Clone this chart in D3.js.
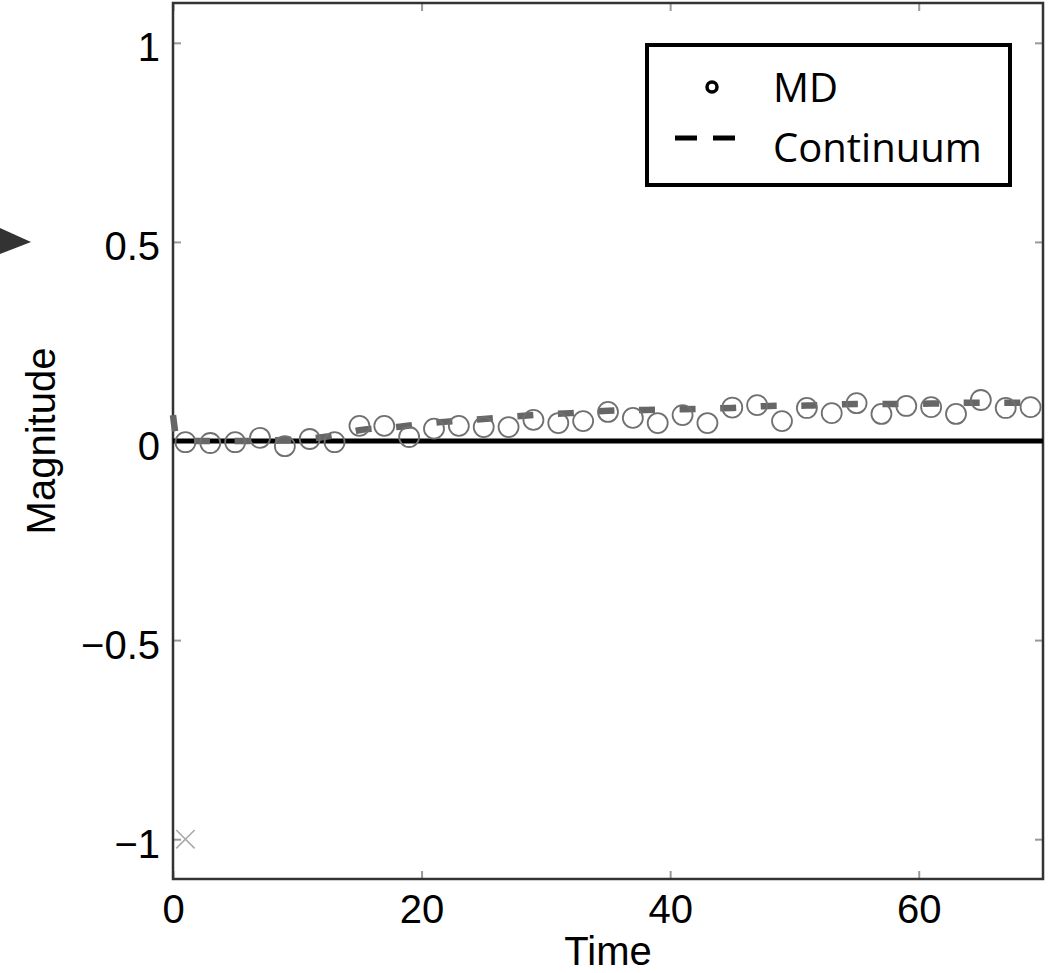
<!DOCTYPE html>
<html>
<head>
<meta charset="utf-8">
<script src="https://cdn.jsdelivr.net/npm/d3@7"></script>
<style>
  html, body { margin: 0; padding: 0; background: #fff; }
  svg { display: block; }
</style>
</head>
<body>
<div id="viz"></div>
<script>
'use strict';

// MD samples (every 2 time units)
const mdTime = [1, 3, 5, 7, 9, 11, 13, 15, 17, 19, 21, 23, 25, 27, 29, 31, 33, 35,
  37, 39, 41, 43, 45, 47, 49, 51, 53, 55, 57, 59, 61, 63, 65, 67, 69];
const mdValue = [-0.003, -0.005, -0.003, 0.008, -0.013, 0.005, -0.003, 0.038, 0.038,
  0.01, 0.031, 0.038, 0.035, 0.035, 0.053, 0.045, 0.05, 0.073, 0.058, 0.045, 0.065,
  0.045, 0.084, 0.09, 0.05, 0.083, 0.07, 0.095, 0.068, 0.088, 0.085, 0.068, 0.103,
  0.083, 0.085];

// continuum solution
const contTime = [0, 0.3, 1, 5, 10, 13, 15, 18, 21, 25, 28, 32, 35, 38, 41, 45, 48,
  51, 55, 58, 61, 64, 67, 70];
const contValue = [0.065, 0.01, 0, 0, 0.004, 0.014, 0.027, 0.035, 0.046, 0.055, 0.063,
  0.07, 0.076, 0.078, 0.08, 0.083, 0.088, 0.089, 0.093, 0.093, 0.094, 0.096, 0.096,
  0.097];

// stray marker near the bottom
const crossTime = [1];
const crossValue = [-1];

const xTicks = [0, 20, 40, 60];
const yTicks = [-1, -0.5, 0, 0.5, 1];
const legendLabels = ['MD', 'Continuum'];

const W = 1054, H = 973;
const margin = {top: 3, right: 11, bottom: 94, left: 173};
const width = W - margin.left - margin.right;
const height = H - margin.top - margin.bottom;

const svg = d3.select('#viz')
  .append('svg')
    .attr('width', W)
    .attr('height', H);

const g = svg.append('g')
  .attr('transform', 'translate(' + margin.left + ',' + margin.top + ')');

const x = d3.scaleLinear()
  .domain([0, 70])
  .range([0, width]);

const y = d3.scaleLinear()
  .domain([-1.1, 1.1])
  .range([height, 0]);

const fmt = d3.format('~g');
const tickFont = '"Liberation Sans", Arial, sans-serif';

function styleAxis(sel) {
  sel.select('.domain').remove();
  sel.selectAll('.tick line')
    .attr('stroke', '#999')
    .attr('stroke-width', 2);
  sel.selectAll('.tick text')
    .attr('fill', '#000')
    .style('font-family', tickFont)
    .style('font-size', '40px');
}

// left axis
g.append('g')
  .call(d3.axisLeft(y).tickValues(yTicks).tickFormat(fmt).tickSize(-8).tickPadding(13))
  .call(styleAxis)
  .selectAll('.tick text')
    .attr('dy', '0.45em');

// right axis (ticks only)
g.append('g')
  .attr('transform', `translate(${width},0)`)
  .call(d3.axisRight(y).tickValues(yTicks).tickFormat('').tickSize(-8))
  .call(styleAxis);

// bottom axis
g.append('g')
  .attr('transform', `translate(0,${height})`)
  .call(d3.axisBottom(x).tickValues(xTicks).tickFormat(fmt).tickSize(-8).tickPadding(16))
  .call(styleAxis);

// top axis (ticks only)
g.append('g')
  .call(d3.axisTop(x).tickValues(xTicks).tickFormat('').tickSize(-8))
  .call(styleAxis);

// box
g.append('rect')
  .attr('x', 0)
  .attr('y', 0)
  .attr('width', width)
  .attr('height', height)
  .attr('fill', 'none')
  .attr('stroke', '#333')
  .attr('stroke-width', 2.5);

// zero line
g.append('line')
  .attr('x1', x(0))
  .attr('x2', x(70))
  .attr('y1', y(0))
  .attr('y2', y(0))
  .attr('stroke', '#000')
  .attr('stroke-width', 5);

// continuum dashed
const contData = contTime.map((t, i) => ({t, v: contValue[i]}));
g.append('path')
  .datum(contData)
  .attr('fill', 'none')
  .attr('stroke', '#666')
  .attr('stroke-width', 6.5)
  .attr('stroke-dasharray', '16,24.6')
  .attr('d', d3.line()
    .x(d => x(d.t))
    .y(d => y(d.v))
    .curve(d3.curveMonotoneX)
  );

// MD circles
const mdData = mdTime.map((t, i) => ({t, v: mdValue[i]}));
g.selectAll('circle.md')
  .data(mdData)
  .join('circle')
    .attr('class', 'md')
    .attr('cx', d => x(d.t))
    .attr('cy', d => y(d.v))
    .attr('r', 10)
    .attr('fill', 'none')
    .attr('stroke', '#707070')
    .attr('stroke-width', 1.8);

// cross marker
const crossData = crossTime.map((t, i) => ({t, v: crossValue[i]}));
g.selectAll('path.cross')
  .data(crossData)
  .join('path')
    .attr('class', 'cross')
    .attr('transform', d => `translate(${x(d.t)},${y(d.v)}) rotate(45)`)
    .attr('d', 'M-13,0H13M0,-13V13')
    .attr('stroke', '#aaa')
    .attr('stroke-width', 1.6);

// axis titles
svg.append('text')
  .attr('x', margin.left + width / 2)
  .attr('y', 965)
  .attr('text-anchor', 'middle')
  .style('font-family', tickFont)
  .style('font-size', '40px')
  .text('Time');

svg.append('text')
  .attr('transform', `translate(55,${margin.top + height / 2}) rotate(-90)`)
  .attr('text-anchor', 'middle')
  .style('font-family', tickFont)
  .style('font-size', '40px')
  .text('Magnitude');

// arrow head pointing at the plot
svg.append('path')
  .attr('d', 'M0,228L31,242L0,254Z')
  .attr('fill', '#333');

// legend
const legend = svg.append('g')
  .attr('transform', 'translate(647,45)');

legend.append('rect')
  .attr('width', 363)
  .attr('height', 140)
  .attr('fill', '#fff')
  .attr('stroke', '#000')
  .attr('stroke-width', 4);

legend.append('circle')
  .attr('cx', 65)
  .attr('cy', 42)
  .attr('r', 5)
  .attr('fill', 'none')
  .attr('stroke', '#000')
  .attr('stroke-width', 3.5);

legend.append('line')
  .attr('x1', 28)
  .attr('x2', 88)
  .attr('y1', 93)
  .attr('y2', 93)
  .attr('stroke', '#000')
  .attr('stroke-width', 5)
  .attr('stroke-dasharray', '22,16');

legend.selectAll('text')
  .data(legendLabels)
  .join('text')
    .attr('x', 126)
    .attr('y', (d, i) => 57 + i * 60)
    .style('font-family', '"Open Sans", sans-serif')
    .style('font-size', '40px')
    .text(d => d);
</script>
</body>
</html>
